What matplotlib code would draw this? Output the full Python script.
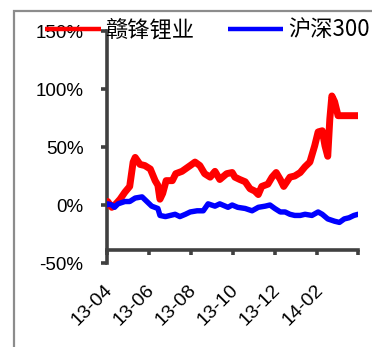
import matplotlib
matplotlib.use("Agg")
import matplotlib.pyplot as plt
import matplotlib.transforms as mtransforms
from matplotlib.patches import Rectangle
import pandas as pd

# ---------------- data ----------------
red_name = "赣锋锂业"
blue_name = "沪深300"

red_dates = ["2013-04-01", "2013-04-02", "2013-04-08", "2013-04-14", "2013-04-20", "2013-04-27",
             "2013-05-04", "2013-05-09", "2013-05-12", "2013-05-19", "2013-05-26", "2013-06-03",
             "2013-06-10", "2013-06-14", "2013-06-17", "2013-06-21", "2013-06-26", "2013-07-05",
             "2013-07-10", "2013-07-19", "2013-07-31", "2013-08-07", "2013-08-14", "2013-08-21",
             "2013-08-29", "2013-09-05", "2013-09-12", "2013-09-22", "2013-09-30", "2013-10-04",
             "2013-10-11", "2013-10-19", "2013-10-26", "2013-11-02", "2013-11-07", "2013-11-12",
             "2013-11-21", "2013-11-27", "2013-12-03", "2013-12-09", "2013-12-14", "2013-12-23",
             "2013-12-30", "2014-01-07", "2014-01-14", "2014-01-21", "2014-01-28", "2014-02-02",
             "2014-02-08", "2014-02-12", "2014-02-16", "2014-02-19", "2014-02-22", "2014-02-26",
             "2014-03-03", "2014-04-01"]
red_values = [0, 3, -2, 1, 5, 11,
              16, 37, 41, 35, 34, 31,
              21, 17, 5, 10, 21, 21,
              27, 29, 34, 37, 34, 27,
              24, 29, 22, 27, 28, 24,
              22, 20, 14, 12, 9, 16,
              18, 24, 28, 22, 16, 24,
              25, 28, 33, 37, 51, 63,
              64, 51, 42, 74, 94, 89,
              77, 77]

blue_dates = ["2013-04-01", "2013-04-02", "2013-04-08", "2013-04-12", "2013-04-17", "2013-04-27",
              "2013-05-04", "2013-05-12", "2013-05-22", "2013-05-29", "2013-06-05", "2013-06-14",
              "2013-06-17", "2013-06-25", "2013-07-02", "2013-07-09", "2013-07-16", "2013-07-24",
              "2013-07-31", "2013-08-10", "2013-08-19", "2013-08-26", "2013-09-05", "2013-09-12",
              "2013-09-24", "2013-09-30", "2013-10-08", "2013-10-19", "2013-10-29", "2013-11-07",
              "2013-11-17", "2013-11-24", "2013-12-01", "2013-12-09", "2013-12-16", "2013-12-23",
              "2013-12-30", "2014-01-07", "2014-01-14", "2014-01-24", "2014-02-02", "2014-02-08",
              "2014-02-16", "2014-02-26", "2014-03-05", "2014-03-12", "2014-03-19", "2014-03-26",
              "2014-04-01"]
blue_values = [0, 1, 0, -2, 1, 3,
               3, 6, 7, 3, -1, -3,
               -9, -10, -9, -8, -10, -8,
               -6, -5, -5, 1, -1, 1,
               -2, 0, -2, -3, -5, -2,
               -1, 0, -3, -6, -6, -8,
               -9, -9, -8, -9, -6, -8,
               -12, -14, -15, -12, -11, -9,
               -8]

y_ticks = [-50, 0, 50, 100, 150]
y_tick_labels = ["-50%", "0%", "50%", "100%", "150%"]
x_ticks = ["2013-04-01", "2013-06-01", "2013-08-01", "2013-10-01", "2013-12-01", "2014-02-01", "2014-04-01"]
x_tick_labels = ["13-04", "13-06", "13-08", "13-10", "13-12", "14-02", ""]

# ---------------- figure ----------------
W, H = 372, 347
fig = plt.figure(figsize=(W / 100, H / 100), dpi=100)
fig.patch.set_facecolor("white")

# outer grey frame (extends beyond right/bottom edges)
frame = Rectangle((14 / W, -0.2), 1.5, (H - 11) / H + 0.2, transform=fig.transFigure,
                  fill=False, edgecolor="#8c8c8c", linewidth=1.6, clip_on=False)
fig.patches.append(frame)

ax_left, ax_right, ax_top, ax_bot = 107, 358, 31, 263
ax = fig.add_axes([ax_left / W, 1 - ax_bot / H, (ax_right - ax_left) / W, (ax_bot - ax_top) / H])
ax.set_facecolor("none")

rd = pd.to_datetime(red_dates)
bd = pd.to_datetime(blue_dates)
ax.plot(rd, red_values, color="#ff0000", lw=5.0, solid_joinstyle="round", solid_capstyle="round",
        label=red_name, zorder=3)
ax.plot(bd, blue_values, color="#0000ff", lw=3.9, solid_joinstyle="round", solid_capstyle="round",
        label=blue_name, zorder=4)

ax.set_ylim(-50, 150)
ax.set_xlim(pd.Timestamp("2013-04-01"), pd.Timestamp("2014-04-01"))

axis_color = "#404040"
for s in ["top", "right"]:
    ax.spines[s].set_visible(False)
ax.spines["left"].set_color(axis_color)
ax.spines["left"].set_linewidth(2.6)
ax.spines["bottom"].set_color(axis_color)
ax.spines["bottom"].set_linewidth(2.6)
ax.spines["bottom"].set_position(("data", -39))
ax.spines["bottom"].set_zorder(5)

ax.set_yticks(y_ticks)
ax.set_yticklabels(y_tick_labels, fontsize=13.5, family="Liberation Sans", color="black")
ax.tick_params(axis="y", direction="out", length=4, width=2.6, color=axis_color, pad=13)

ax.set_xticks(pd.to_datetime(x_ticks))
ax.set_xticklabels(x_tick_labels, fontsize=14, family="Liberation Sans", color="black",
                   rotation=45, ha="right", va="top", rotation_mode="anchor")
ax.tick_params(axis="x", direction="out", length=3.5, width=2.6, color=axis_color, pad=19)
offset = mtransforms.ScaledTranslation(-3 / 100, 0, fig.dpi_scale_trans)
for lab in ax.get_xticklabels():
    lab.set_transform(lab.get_transform() + offset)

# legend
leg = ax.legend(loc="center left", bbox_to_anchor=(45 / W, 1 - 30 / H), bbox_transform=fig.transFigure,
                ncol=2, frameon=False, borderpad=0, borderaxespad=0,
                handlelength=2.5, handletextpad=0.22, columnspacing=1.5,
                prop={"family": ["Noto Sans CJK SC", "DejaVu Sans"], "size": 16})
for line in leg.get_lines():
    line.set_linewidth(3.2)
    line.set_solid_capstyle("butt")

fig.savefig("out.png", dpi=100)
